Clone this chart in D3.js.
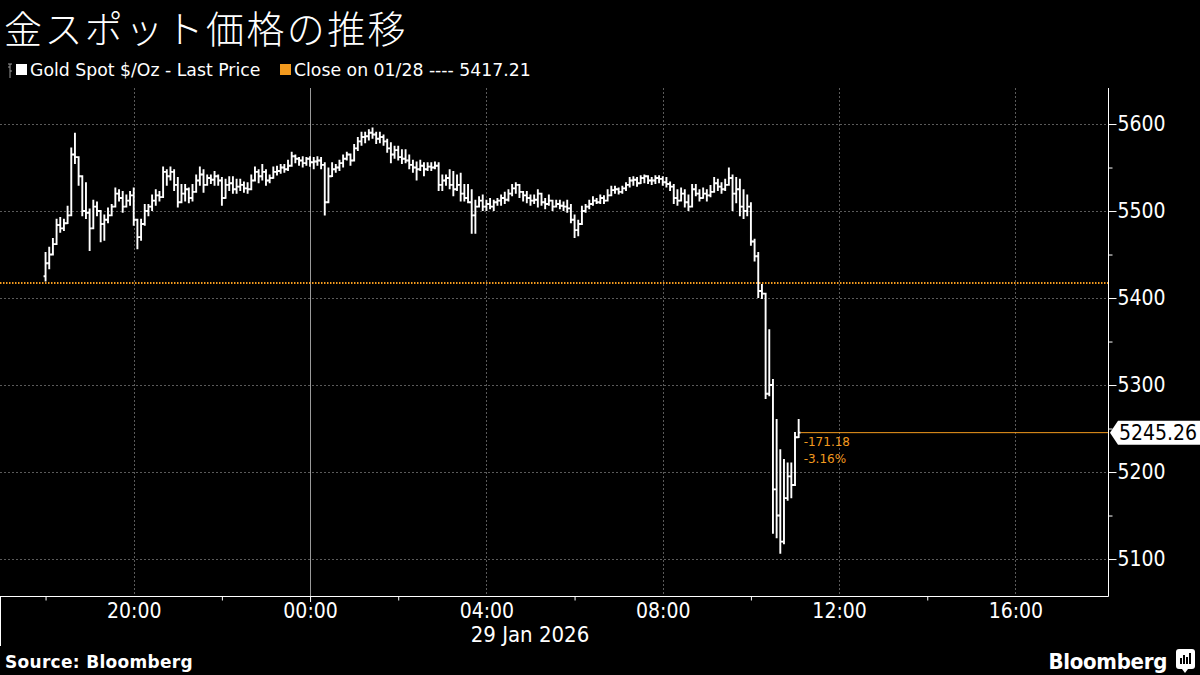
<!DOCTYPE html>
<html><head><meta charset="utf-8">
<script src="https://cdn.jsdelivr.net/npm/d3@7"></script>
<style>body{margin:0;background:#000}svg{display:block}</style>
</head><body>
<svg id="c" width="1200" height="675"></svg>
<script>
// ---------- data ----------
const title = "金スポット価格の推移";
const seriesName = "Gold Spot $/Oz - Last Price";
const closeLabel = "Close on 01/28 ---- 5417.21";
const prevClose = 5417.21;
const lastPrice = 5245.26;
const changeText = ["-171.18", "-3.16%"];
const firstBar = "2026-01-28T18:00:00Z";   // 5-minute bars
const firstOpen = 5425;
const highs = [5452,5458,5468,5490,5492,5490,5505,5572,5589,5562,5540,5532,5502,5512,5510,5499,5495,5503,5507,5526,
5524,5522,5518,5522,5526,5487,5490,5507,5507,5518,
5524,5522,5550,5547,5550,5547,5538,5530,5530,5526,
5530,5541,5550,5547,5541,5541,5545,5541,5538,5536,
5539,5539,5536,5536,5533,5532,5541,5550,5547,5553,
5547,5541,5550,5551,5553,5553,5558,5567,5564,5561,
5562,5561,5562,5561,5562,5561,5555,5549,5555,5553,
5558,5564,5567,5564,5576,5584,5590,5590,5593,5595,
5590,5590,5587,5582,5578,5574,5574,5570,5570,5564,
5558,5556,5558,5555,5555,5555,5556,5555,5541,5541,
5547,5545,5541,5543,5530,5530,5524,5512,5516,5518,
5512,5514,5512,5514,5518,5521,5524,5530,5532,5528,
5522,5522,5518,5518,5524,5518,5514,5518,5512,5512,
5512,5510,5512,5507,5495,5489,5505,5507,5512,5516,
5514,5518,5517,5524,5528,5528,5526,5528,5532,5538,
5539,5538,5540,5541,5540,5538,5540,5540,5539,5538,
5533,5530,5524,5526,5524,5518,5530,5530,5524,5526,
5524,5529,5538,5536,5532,5536,5549,5541,5538,5536,
5524,5518,5509,5467,5452,5415,5401,5363,5306,5260,
5225,5214,5210,5210,5245,5260];
const lows = [5420,5434,5455,5472,5476,5478,5489,5495,5555,5530,5495,5492,5455,5499,5495,5465,5467,5487,5495,5510,
5512,5499,5507,5507,5484,5457,5467,5484,5495,5501,
5507,5512,5522,5530,5536,5524,5505,5512,5512,5510,
5512,5524,5530,5522,5530,5532,5530,5530,5507,5518,
5524,5521,5521,5524,5522,5521,5528,5536,5533,5536,
5530,5533,5538,5542,5544,5545,5547,5555,5556,5553,
5551,5553,5552,5549,5553,5549,5496,5518,5544,5545,
5547,5551,5559,5553,5562,5570,5576,5579,5582,5584,
5578,5579,5576,5568,5556,5561,5559,5555,5556,5549,
5545,5536,5547,5541,5547,5547,5549,5524,5524,5530,
5526,5518,5524,5512,5512,5512,5475,5475,5507,5501,
5501,5503,5501,5507,5507,5509,5512,5518,5521,5516,
5512,5510,5507,5509,5505,5507,5503,5507,5501,5505,
5503,5501,5499,5487,5470,5472,5490,5499,5503,5507,
5509,5509,5509,5512,5518,5521,5520,5521,5524,5528,
5530,5529,5533,5533,5532,5531,5532,5533,5530,5528,
5524,5509,5507,5512,5505,5501,5512,5518,5512,5515,
5512,5517,5524,5524,5521,5524,5530,5501,5510,5495,
5492,5495,5461,5443,5401,5400,5285,5288,5130,5125,
5107,5118,5168,5171,5199,5240];
const closes = [5440,5450,5462,5484,5480,5486,5495,5565,5562,5540,5500,5498,5480,5505,5500,5485,5490,5495,5505,5520,
5515,5505,5512,5518,5490,5470,5485,5500,5505,5512,
5518,5516,5545,5540,5545,5530,5510,5520,5525,5515,
5522,5535,5542,5530,5538,5536,5540,5535,5515,5530,
5532,5525,5528,5530,5526,5525,5535,5545,5540,5545,
5535,5538,5545,5546,5550,5548,5552,5563,5560,5558,
5555,5560,5556,5557,5558,5553,5510,5540,5548,5550,
5555,5560,5565,5558,5572,5580,5585,5586,5590,5588,
5583,5585,5580,5572,5565,5570,5562,5560,5558,5553,
5550,5548,5552,5548,5551,5550,5552,5530,5535,5538,
5530,5525,5530,5520,5515,5510,5495,5505,5512,5505,
5508,5505,5510,5512,5515,5513,5520,5526,5530,5522,
5518,5515,5512,5513,5520,5510,5508,5512,5505,5508,
5506,5505,5503,5490,5478,5485,5500,5505,5508,5512,
5510,5515,5512,5518,5524,5525,5522,5526,5530,5535,
5536,5532,5538,5540,5535,5535,5538,5537,5533,5531,
5528,5515,5512,5520,5510,5505,5525,5520,5515,5520,
5518,5522,5532,5528,5525,5530,5538,5520,5525,5505,
5500,5505,5465,5448,5408,5405,5290,5300,5180,5150,
5120,5170,5195,5185,5240,5245.26];
const yTicks = [5100,5200,5300,5400,5500,5600];
const yMinorTicks = [5150,5250,5350,5450,5550];
const xDomain = ["2026-01-28T16:58:00Z","2026-01-29T18:06:00Z"];
const yDomain = [5057.5, 5641.4];
const xLabelTimes = ["2026-01-28T20:00:00Z","2026-01-29T00:00:00Z","2026-01-29T04:00:00Z","2026-01-29T08:00:00Z","2026-01-29T12:00:00Z","2026-01-29T16:00:00Z"];
const xLabels = ["20:00","00:00","04:00","08:00","12:00","16:00"];
const xMinorTimes = ["2026-01-28T18:00:00Z","2026-01-28T22:00:00Z","2026-01-29T02:00:00Z","2026-01-29T06:00:00Z","2026-01-29T10:00:00Z","2026-01-29T14:00:00Z"];
const dayLabel = "29 Jan 2026";
const dayStart = "2026-01-29T00:00:00Z";
const source = "Source: Bloomberg";

// ---------- chart ----------
const W = 1200, H = 675;
const plot = {l: 0, r: 1108, t: 88, b: 596};
const ORANGE = "#f39a1e";
const FONT = "'DejaVu Sans', 'Liberation Sans', sans-serif";
const svg = d3.select("#c");
svg.append("rect").attr("width", W).attr("height", H).attr("fill", "#000");

const x = d3.scaleUtc().domain(xDomain.map(d => new Date(d))).range([plot.l, plot.r]);
const y = d3.scaleLinear().domain(yDomain).range([plot.b, plot.t]);

// title
svg.append("text").attr("x", 4).attr("y", 43).text(title)
  .attr("fill", "#fff").attr("font-size", 38).attr("font-weight", 300)
  .attr("letter-spacing", 2.4)
  .attr("font-family", "'Noto Sans CJK JP', sans-serif");

// legend
const lg = svg.append("g");
lg.append("path").attr("d", "M10,64V78 M8,67H10 M10,71H12 M8,64H12")
  .attr("stroke", "#999").attr("fill", "none").attr("stroke-width", 1);
lg.append("rect").attr("x", 16).attr("y", 64).attr("width", 11).attr("height", 11).attr("fill", "#fff");
lg.append("text").attr("x", 30).attr("y", 76).text(seriesName)
  .attr("fill", "#fff").attr("font-size", 17.3).attr("font-family", FONT);
lg.append("rect").attr("x", 280).attr("y", 64).attr("width", 11).attr("height", 11).attr("fill", ORANGE);
lg.append("text").attr("x", 294).attr("y", 76).text(closeLabel)
  .attr("fill", "#fff").attr("font-size", 17.3).attr("font-family", FONT);

// gridlines
const grid = svg.append("g");
grid.selectAll(".hg").data(yTicks).join("line")
  .attr("x1", plot.l).attr("x2", plot.r)
  .attr("y1", d => Math.round(y(d)) + 0.5).attr("y2", d => Math.round(y(d)) + 0.5)
  .attr("stroke", "#5a5a5a").attr("stroke-dasharray", "2,2");
grid.selectAll(".vg").data(xLabelTimes.map(d => new Date(d))).join("line")
  .attr("x1", d => Math.round(x(d)) + 0.5).attr("x2", d => Math.round(x(d)) + 0.5)
  .attr("y1", plot.t).attr("y2", plot.b)
  .attr("stroke", d => +d === +new Date(dayStart) ? "#9a9a9a" : "#5a5a5a")
  .attr("stroke-dasharray", d => +d === +new Date(dayStart) ? null : "2,2");

// previous close dotted line
svg.append("line").attr("x1", plot.l).attr("x2", plot.r)
  .attr("y1", y(prevClose)).attr("y2", y(prevClose))
  .attr("stroke", ORANGE).attr("stroke-width", 2).attr("stroke-dasharray", "1.5,1.5");

// bars
const times = d3.utcMinute.every(5).range(new Date(firstBar), new Date(Date.parse(firstBar) + closes.length * 300000));
const bars = closes.map((c, i) => ({t: times[i], o: i ? closes[i - 1] : firstOpen, h: highs[i], l: lows[i], c}));
const tickW = 2;
svg.append("g").selectAll("path").data(bars).join("path")
  .attr("d", d => {
    const xx = x(d.t);
    const hi = Math.max(d.h, d.o, d.c), lo = Math.min(d.l, d.o, d.c);
    return `M${xx},${y(hi) - 0.9}V${y(lo) + 0.9}M${xx - tickW},${y(d.o)}H${xx}M${xx},${y(d.c)}H${xx + tickW}`;
  })
  .attr("stroke", "#fff").attr("stroke-width", 1.9).attr("fill", "none");

// last price line + annotations
const lastX = x(times[times.length - 1]) + tickW;
svg.append("line").attr("x1", lastX).attr("x2", plot.r)
  .attr("y1", y(lastPrice)).attr("y2", y(lastPrice))
  .attr("stroke", ORANGE).attr("stroke-width", 1);
changeText.forEach((t, i) => {
  svg.append("text").attr("x", lastX + 3).attr("y", y(lastPrice) + 13 + i * 17).text(t)
    .attr("fill", ORANGE).attr("font-size", 12).attr("font-family", FONT);
});

// y axis
const yAxis = d3.axisRight(y).tickValues(yTicks).tickSize(8).tickSizeOuter(0).tickPadding(1)
  .tickFormat(d3.format("d"));
const ya = svg.append("g").attr("transform", `translate(${plot.r + 0.5},0)`).call(yAxis);
ya.select(".domain").attr("stroke", "#fff").attr("d", `M0,${plot.t}V${plot.b + 0.5}`);
ya.selectAll(".tick line").attr("stroke", "#fff");
ya.selectAll(".tick text").attr("fill", "#fff").attr("font-size", 21).attr("font-family", FONT)
  .attr("font-stretch", "condensed");
const yMinor = d3.axisRight(y).tickValues(yMinorTicks).tickSize(4).tickFormat("");
const ym = svg.append("g").attr("transform", `translate(${plot.r + 0.5},0)`).call(yMinor);
ym.select(".domain").remove();
ym.selectAll(".tick line").attr("stroke", "#fff");

// last price tag
const ly = y(lastPrice);
svg.append("path").attr("d", `M${plot.r + 2},${ly}L${plot.r + 10},${ly - 12}H${W}V${ly + 12}H${plot.r + 10}Z`).attr("fill", "#fff");
svg.append("text").attr("x", plot.r + 11).attr("y", ly + 7.5).text(d3.format(".2f")(lastPrice))
  .attr("fill", "#000").attr("font-size", 21).attr("font-family", FONT).attr("font-stretch", "condensed");

// x axis
const xa = svg.append("g").attr("transform", `translate(0,${plot.b + 0.5})`)
  .call(d3.axisBottom(x).tickValues(xLabelTimes.map(d => new Date(d))).tickSize(0).tickSizeOuter(0).tickPadding(6)
    .tickFormat((d, i) => xLabels[i]));
xa.select(".domain").attr("stroke", "#fff").attr("d", `M${plot.l},0H${plot.r + 0.5}`);
xa.selectAll(".tick text").attr("fill", "#fff").attr("font-size", 21).attr("font-family", FONT)
  .attr("font-stretch", "condensed").attr("dy", "0.72em");
const xm = svg.append("g").attr("transform", `translate(0,${plot.b + 0.5})`)
  .call(d3.axisBottom(x).tickValues(xMinorTimes.map(d => new Date(d))).tickSize(4).tickSizeOuter(0).tickFormat(""));
xm.select(".domain").remove();
xm.selectAll(".tick line").attr("stroke", "#fff");
svg.append("line").attr("x1", x(new Date(dayStart)) + 0.5).attr("x2", x(new Date(dayStart)) + 0.5)
  .attr("y1", plot.b).attr("y2", plot.b + 6).attr("stroke", "#fff");
svg.append("line").attr("x1", 0.5).attr("x2", 0.5).attr("y1", plot.b).attr("y2", plot.b + 50).attr("stroke", "#fff");
svg.append("text").attr("x", 530).attr("y", 642).attr("text-anchor", "middle").text(dayLabel)
  .attr("fill", "#fff").attr("font-size", 22).attr("font-family", FONT).attr("font-stretch", "condensed");

// footer
svg.append("text").attr("x", 5).attr("y", 668).text(source)
  .attr("fill", "#fff").attr("font-size", 17).attr("font-weight", "bold").attr("font-family", FONT)
  .attr("letter-spacing", 0.3);
svg.append("text").attr("x", 1167).attr("y", 669).attr("text-anchor", "end").text("Bloomberg")
  .attr("fill", "#fff").attr("font-size", 22).attr("font-weight", "bold").attr("font-family", FONT)
  .attr("font-stretch", "condensed").attr("letter-spacing", -0.3);
const ic = svg.append("g").attr("transform", "translate(1176,649)");
ic.append("rect").attr("width", 19).attr("height", 20).attr("rx", 3).attr("fill", "#fff");
ic.append("path").attr("d", "M5,15V9M8,15V6M11,15V8M14,15V4").attr("stroke", "#000").attr("stroke-width", 2);
ic.append("path").attr("d", "M6,20L9,24L12,20Z").attr("fill", "#fff");
</script>
</body></html>
